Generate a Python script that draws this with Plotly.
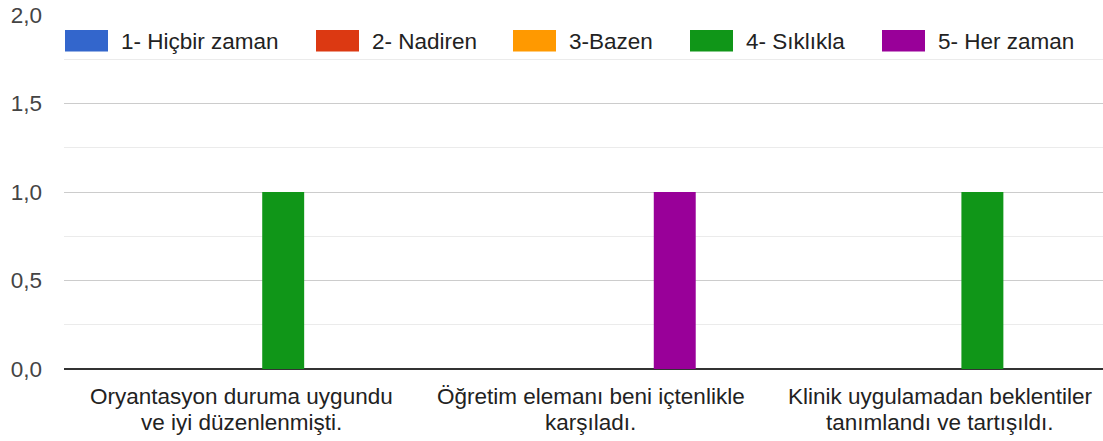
import plotly.graph_objects as go

categories = [
    "Oryantasyon duruma uygundu<br>ve iyi düzenlenmişti.",
    "Öğretim elemanı beni içtenlikle<br>karşıladı.",
    "Klinik uygulamadan beklentiler<br>tanımlandı ve tartışıldı.",
]
series_names = ["1- Hiçbir zaman", "2- Nadiren", "3-Bazen", "4- Sıklıkla", "5- Her zaman"]
hicbir = [0, 0, 0]
nadiren = [0, 0, 0]
bazen = [0, 0, 0]
siklikla = [1, 0, 1]
her_zaman = [0, 1, 0]
series_values = [hicbir, nadiren, bazen, siklikla, her_zaman]
colors = ["#3366CC", "#DC3912", "#FF9900", "#109618", "#990099"]
y_ticks = [0, 0.5, 1.0, 1.5, 2.0]

W, H = 1103, 441
L, R, T, B = 64, 0, 15, 72
PW, PH = W - L - R, H - T - B
FONT = "Liberation Sans, Arial, sans-serif"
FS = 22.5

fig = go.Figure()
xs = list(range(len(categories)))
for name, vals, col in zip(series_names, series_values, colors):
    fig.add_trace(go.Bar(x=xs, y=vals, name=name, marker=dict(color=col, line=dict(width=0))))

# manual legend (swatches + labels)
legend_x_px = [65, 316, 513, 690, 882]
def px_x(p):
    return (p - L) / PW
def px_y(p):
    return (H - B - p) / PH
for name, col, x0 in zip(series_names, colors, legend_x_px):
    fig.add_shape(type="rect", xref="paper", yref="paper",
                  x0=px_x(x0), x1=px_x(x0 + 43), y0=px_y(51.5), y1=px_y(30),
                  fillcolor=col, line=dict(width=0), layer="above")
    fig.add_annotation(xref="paper", yref="paper", x=px_x(x0 + 54), y=px_y(41),
                       text=name, showarrow=False, xanchor="left", yanchor="middle",
                       font=dict(family=FONT, size=FS, color="#222222"))

# category labels (two lines each)
for i, cat in enumerate(categories):
    for j, line in enumerate(cat.split("<br>")):
        fig.add_annotation(x=i, xref="x", yref="paper", y=0, yanchor="middle",
                           yshift=-(27 + 26 * j), text=line, showarrow=False,
                           font=dict(family=FONT, size=FS, color="#222222"))

fig.update_layout(
    width=W, height=H,
    margin=dict(l=L, r=R, t=T, b=B, pad=0, autoexpand=False),
    paper_bgcolor="white", plot_bgcolor="white",
    barmode="group", bargap=0.4, bargroupgap=0,
    showlegend=False,
    separators=",.",
    font=dict(family=FONT, size=FS, color="#444444"),
    xaxis=dict(range=[-0.507, 2.465], showticklabels=False, showgrid=False,
               zeroline=False, showline=False, fixedrange=True, automargin=False),
    yaxis=dict(range=[0, 2], tickvals=y_ticks, tickformat=".1f", automargin=False,
               showgrid=True, gridcolor="#cccccc", gridwidth=1,
               minor=dict(dtick=0.25, showgrid=True, gridcolor="#ebebeb", gridwidth=1),
               zeroline=True, zerolinecolor="#333333", zerolinewidth=2,
               ticks="", ticklabelstandoff=21, showline=False,
               tickfont=dict(family=FONT, size=FS, color="#444444")),
)

fig.write_html("out.html", config={"displayModeBar": False},
               post_script="document.body.style.margin='0';document.body.style.overflow='hidden';")
